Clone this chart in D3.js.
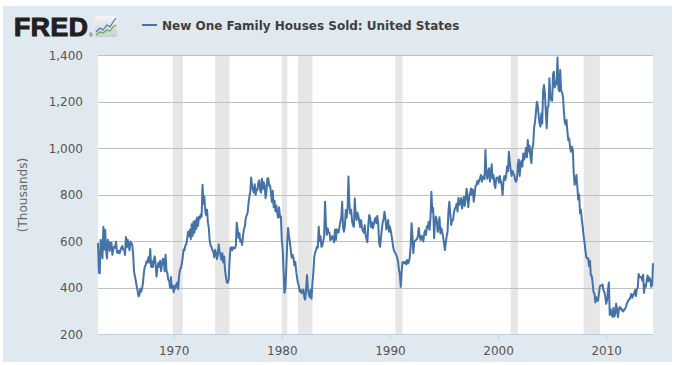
<!DOCTYPE html>
<html><head><meta charset="utf-8">
<script src="https://cdn.jsdelivr.net/npm/d3@7"></script>
<style>html,body{margin:0;padding:0;background:#fff;}svg{display:block;}</style>
</head><body>
<svg id="chart" width="678" height="365"></svg>
<script>
const seriesName = "New One Family Houses Sold: United States";
const yAxisLabel = "(Thousands)";
const startYear = 1963;
const yTicks = [200, 400, 600, 800, 1000, 1200, 1400];
const xTickYears = [1970, 1980, 1990, 2000, 2010];
const recessions = [
  ["1969-12-01", "1970-11-01"], ["1973-11-01", "1975-03-01"], ["1980-01-01", "1980-07-01"],
  ["1981-07-01", "1982-11-01"], ["1990-07-01", "1991-03-01"], ["2001-03-01", "2001-11-01"],
  ["2007-12-01", "2009-06-01"]
];
// Monthly values (thousands, SAAR), Jan 1963 .. May 2014, one row per year
const sales = [
  591, 464, 461, 605, 586, 526, 661, 563, 648, 557, 525, 605,
  588, 557, 594, 593, 540, 565, 576, 571, 597, 552, 548, 558,
  547, 560, 572, 578, 563, 562, 540, 617, 573, 605, 583, 560,
  598, 591, 585, 546, 470, 448, 429, 405, 386, 362, 368, 396,
  382, 399, 420, 465, 490, 497, 513, 508, 530, 507, 566, 488,
  512, 488, 520, 534, 498, 447, 485, 506, 489, 515, 470, 497,
  524, 518, 470, 541, 473, 462, 433, 430, 398, 445, 397, 408,
  380, 406, 395, 415, 421, 394, 450, 477, 484, 502, 530, 563,
  560, 581, 586, 610, 640, 620, 648, 608, 672, 622, 683, 636,
  688, 652, 701, 665, 703, 696, 714, 704, 842, 760, 791, 731,
  712, 735, 680, 655, 602, 580, 574, 560, 553, 530, 562, 548,
  522, 540, 586, 554, 542, 519, 548, 508, 533, 475, 445, 421,
  420, 434, 508, 569, 573, 560, 573, 568, 569, 580, 679, 648,
  613, 633, 597, 604, 583, 623, 652, 662, 700, 710, 720, 761,
  791, 812, 873, 840, 820, 808, 844, 798, 824, 820, 853, 861,
  818, 808, 868, 824, 853, 838, 784, 814, 870, 869, 837, 839,
  805, 768, 816, 745, 773, 728, 753, 720, 700, 745, 703, 705,
  604, 561, 470, 377, 398, 485, 590, 656, 620, 593, 560, 528,
  540, 526, 495, 510, 470, 440, 418, 405, 382, 390, 375, 384,
  391, 356, 348, 390, 454, 394, 372, 358, 390, 352, 420, 462,
  531, 552, 560, 575, 571, 661, 600, 620, 575, 580, 600, 620,
  769, 671, 626, 654, 637, 634, 604, 608, 621, 612, 594, 649,
  605, 650, 640, 636, 660, 682, 700, 769, 656, 640, 664, 733,
  700, 740, 877, 760, 718, 734, 686, 668, 661, 783, 720, 690,
  722, 706, 685, 660, 690, 656, 644, 636, 668, 625, 610, 595,
  670, 712, 700, 660, 680, 655, 668, 690, 700, 676, 708, 672,
  590, 575, 612, 650, 680, 694, 726, 698, 650, 661, 690, 640,
  661, 642, 621, 592, 566, 554, 548, 541, 529, 512, 478, 456,
  403, 470, 507, 510, 505, 510, 500, 518, 503, 510, 530, 575,
  676, 620, 548, 597, 600, 605, 608, 620, 656, 620, 604, 622,
  620, 598, 630, 645, 626, 663, 655, 683, 648, 697, 812, 726,
  742, 612, 680, 705, 690, 640, 660, 702, 632, 655, 640, 620,
  590, 561, 590, 620, 640, 730, 769, 718, 669, 690, 690, 720,
  740, 744, 760, 727, 785, 755, 760, 785, 740, 760, 790, 751,
  780, 825, 800, 746, 790, 805, 826, 798, 822, 769, 798, 836,
  841, 858, 846, 860, 871, 884, 855, 874, 879, 866, 991, 900,
  868, 900, 913, 855, 892, 930, 868, 883, 842, 828, 870, 873,
  873, 851, 880, 858, 840, 798, 855, 880, 862, 878, 921, 900,
  984, 940, 905, 880, 902, 890, 883, 862, 855, 870, 930, 950,
  880, 930, 945, 920, 976, 950, 970, 1000, 960, 1034, 985, 1010,
  960, 935, 1000, 1010, 1086, 1110, 1150, 1199, 1185, 1142, 1106, 1092,
  1148, 1105, 1245, 1271, 1235, 1155, 1085, 1174, 1182, 1300, 1220, 1206,
  1203, 1319, 1328, 1260, 1286, 1274, 1389, 1255, 1244, 1336, 1246, 1240,
  1220, 1160, 1113, 1100, 1120, 1070, 1034, 1040, 1000, 984, 1005, 990,
  891, 842, 850, 884, 836, 778, 800, 720, 733, 690, 660, 620,
  593, 557, 530, 524, 526, 491, 515, 451, 450, 418, 379, 374,
  336, 358, 344, 343, 375, 405, 409, 408, 413, 388, 381, 359,
  330, 346, 389, 422, 282, 307, 286, 274, 313, 275, 286, 330,
  307, 272, 301, 316, 308, 310, 299, 297, 305, 308, 318, 332,
  338, 348, 349, 360, 372, 356, 368, 373, 389, 363, 394, 398,
  458, 445, 444, 446, 430, 455, 377, 411, 403, 430, 452, 427,
  442, 432, 403, 410, 504
];

const data = sales.map((v, i) => ({date: new Date(startYear, i, 1), value: v}));

const svg = d3.select("#chart");
const pL = 98, pR = 653, pT = 55, pB = 334;

// background panel
svg.append("rect").attr("x", 3).attr("y", 6).attr("width", 669).attr("height", 356).attr("fill", "#e1e9f0");

const x = d3.scaleTime().domain([data[0].date, data[data.length - 1].date]).range([pL, pR]);
const y = d3.scaleLinear().domain([200, 1400]).range([pB, pT]);

// plot area
svg.append("rect").attr("x", pL).attr("y", pT).attr("width", pR - pL).attr("height", pB - pT).attr("fill", "#fff");

// recession shading
svg.append("g").selectAll("rect").data(recessions).join("rect")
  .attr("x", d => x(new Date(d[0])))
  .attr("width", d => x(new Date(d[1])) - x(new Date(d[0])))
  .attr("y", pT).attr("height", pB - pT)
  .attr("fill", "#e6e6e6");

// grid lines
svg.append("g").selectAll("line").data(yTicks.filter(t => t > 200)).join("line")
  .attr("x1", pL).attr("x2", pR)
  .attr("y1", d => Math.round(y(d)) + 0.5).attr("y2", d => Math.round(y(d)) + 0.5)
  .attr("stroke", "#c0c0c0").attr("stroke-width", 1);

// y axis labels
const yAxis = d3.axisLeft(y).tickValues(yTicks).tickSize(0).tickPadding(0).tickFormat(d3.format(","));
const yg = svg.append("g").attr("transform", `translate(${pL - 15},0)`).call(yAxis);
yg.select(".domain").remove();
yg.selectAll("text").attr("font-family", "DejaVu Sans, Verdana, sans-serif").attr("font-size", 12).attr("fill", "#555").attr("dy", "0.35em");

// x axis
const xAxis = d3.axisBottom(x).tickValues(xTickYears.map(yr => new Date(yr, 0, 1))).tickSize(5).tickPadding(7).tickFormat(d3.timeFormat("%Y"));
const xg = svg.append("g").attr("transform", `translate(0,${pB})`).call(xAxis);
xg.select(".domain").attr("stroke", "#c0d0e0").attr("d", `M${pL},0.5H${pR}`);
xg.selectAll(".tick line").attr("stroke", "#c0d0e0");
xg.selectAll("text").attr("font-family", "DejaVu Sans, Verdana, sans-serif").attr("font-size", 12).attr("fill", "#555");

// y axis title
svg.append("text").attr("transform", "translate(27,195) rotate(-90)").attr("text-anchor", "middle")
  .attr("font-family", "DejaVu Sans, Verdana, sans-serif").attr("font-size", 12).attr("fill", "#666").text(yAxisLabel);

// series line
const line = d3.line().x(d => x(d.date)).y(d => y(d.value));
svg.append("path").datum(data).attr("d", line).attr("fill", "none")
  .attr("stroke", "#4572a7").attr("stroke-width", 2).attr("stroke-linejoin", "round");

// legend / title
svg.append("line").attr("x1", 142).attr("x2", 157).attr("y1", 25).attr("y2", 25).attr("stroke", "#4572a7").attr("stroke-width", 2);
svg.append("text").attr("x", 162).attr("y", 29.5).attr("font-family", "DejaVu Sans, Verdana, sans-serif")
  .attr("font-size", 12).attr("font-weight", "bold").attr("fill", "#3e3e3e").text(seriesName);

// FRED logo
svg.append("text").attr("x", 14).attr("y", 36).attr("font-family", "Liberation Sans, Arial, sans-serif")
  .attr("font-size", 26.5).attr("font-weight", "bold").attr("fill", "#231f20")
  .attr("stroke", "#231f20").attr("stroke-width", 1.1).attr("letter-spacing", "0.6").text("FRED");
svg.append("text").attr("x", 89).attr("y", 37).attr("font-family", "Liberation Sans, Arial, sans-serif")
  .attr("font-size", 5).attr("fill", "#231f20").text("®");
const defs = svg.append("defs");
const grad = defs.append("linearGradient").attr("id", "ig").attr("x1", 0).attr("y1", 0).attr("x2", 0).attr("y2", 1);
grad.append("stop").attr("offset", 0).attr("stop-color", "#f4f6f8");
grad.append("stop").attr("offset", 1).attr("stop-color", "#c9ced3");
const icon = svg.append("g").attr("transform", "translate(95,16)");
icon.append("rect").attr("width", 22).attr("height", 21).attr("rx", 2).attr("fill", "url(#ig)");
icon.append("polyline").attr("points", "1,16 5,12 8,14 12,9 15,11 18,6 21,2").attr("fill", "none").attr("stroke", "#4a7ab0").attr("stroke-width", 1.2);
icon.append("polyline").attr("points", "1,19 5,16 8,17 12,14 15,15 18,11 21,9").attr("fill", "none").attr("stroke", "#6aa84f").attr("stroke-width", 1.2);
</script>
</body></html>
